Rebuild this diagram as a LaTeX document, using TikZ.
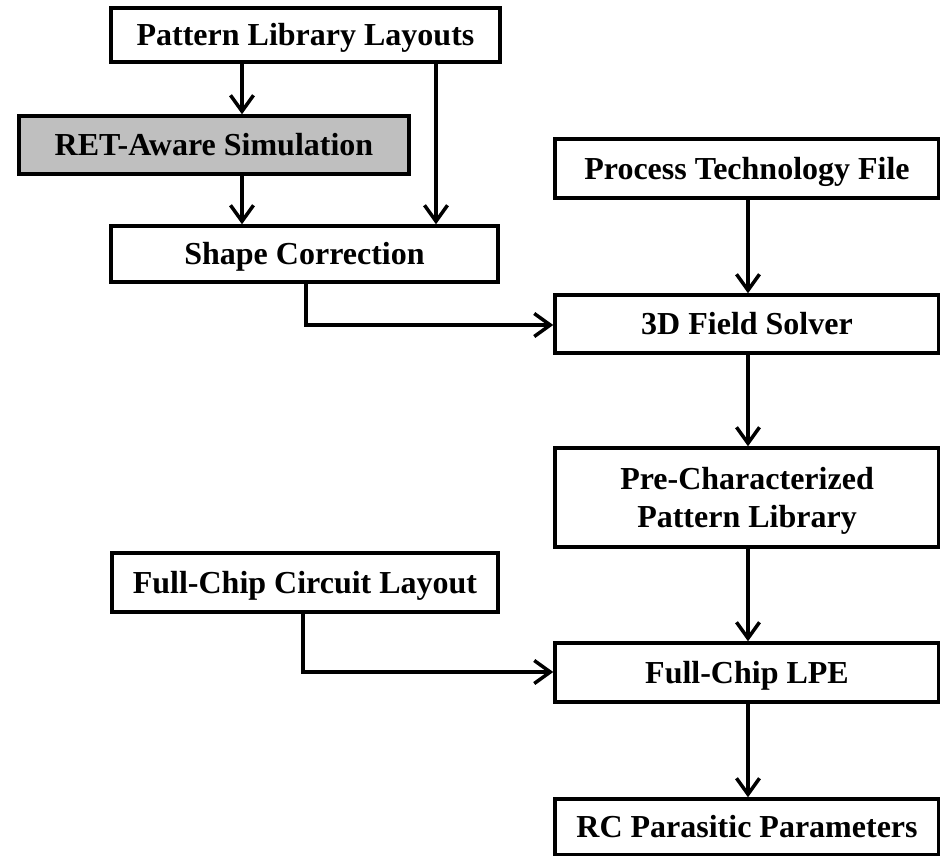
\documentclass[tikz,border=0pt]{standalone}
\usepackage{fontspec}
\setmainfont{Liberation Serif}
\usetikzlibrary{arrows.meta}
\begin{document}
\begin{tikzpicture}[x=1pt,y=-1pt,
  box/.style={draw=black, line width=3.5pt, fill=white, inner sep=0pt,
    text height=21pt, text depth=0pt,
    align=center, font=\fontsize{32}{38}\selectfont\bfseries},
  simbox/.style={box, fill=gray!50},
  tallbox/.style={box, text height=},
  flow/.style={line width=3.5pt, -{Straight Barb[length=16pt,width=23pt]}}]
\useasboundingbox (0,0) rectangle (940,855);
% left column
\node[box, minimum width=389pt, minimum height=54pt] (pll) at (305.5,35) {Pattern Library Layouts};
\node[simbox, minimum width=390pt, minimum height=58pt] (ret) at (214,145) {RET-Aware Simulation};
\node[box, minimum width=387pt, minimum height=56pt] (sc) at (304.5,254) {Shape Correction};
\node[box, minimum width=386pt, minimum height=59pt] (fcl) at (305,582.5) {Full-Chip Circuit Layout};
% right column
\node[box, minimum width=384pt, minimum height=59pt] (ptf) at (747,168.5) {Process Technology File};
\node[box, minimum width=384pt, minimum height=58pt] (fs) at (747,324) {3D Field Solver};
\node[tallbox, minimum width=384pt, minimum height=99pt] (pcpl) at (747,497.5) {Pre-Characterized\\Pattern Library};
\node[box, minimum width=384pt, minimum height=59pt] (lpe) at (747,672.5) {Full-Chip LPE};
\node[box, minimum width=384pt, minimum height=56pt] (rc) at (747,827) {RC Parasitic Parameters};
% connectors
\draw[flow] (pll.south -| 242,0) -- (ret.north -| 242,0);
\draw[flow] (ret.south -| 242,0) -- (sc.north -| 242,0);
\draw[flow] (pll.south -| 436,0) -- (sc.north -| 436,0);
\draw[flow] (sc.south -| 306,0) |- (fs.west |- 0,325);
\draw[flow] (ptf.south -| 748,0) -- (fs.north -| 748,0);
\draw[flow] (fs.south -| 748,0) -- (pcpl.north -| 748,0);
\draw[flow] (pcpl.south -| 748,0) -- (lpe.north -| 748,0);
\draw[flow] (fcl.south -| 303,0) |- (lpe.west |- 0,672);
\draw[flow] (lpe.south -| 748,0) -- (rc.north -| 748,0);
\end{tikzpicture}
\end{document}
